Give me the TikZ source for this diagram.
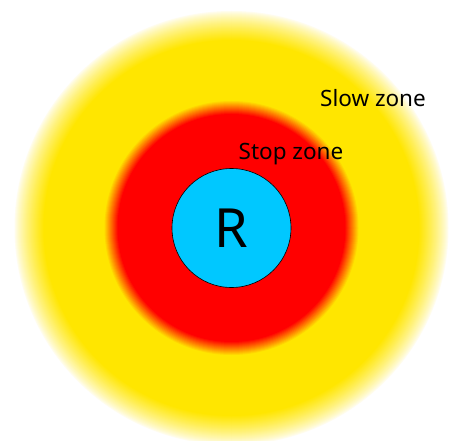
\documentclass[tikz,border=0pt]{standalone}
\usepackage{fontspec}
\setmainfont{Noto Sans}
\definecolor{zyellow}{RGB}{255,230,0}
\definecolor{zred}{RGB}{255,0,0}
\definecolor{zblue}{RGB}{0,200,255}
\begin{document}
\begin{tikzpicture}[x=1pt,y=1pt,
  lbl/.style={font=\fontsize{22.5}{26}\selectfont, text=black, inner sep=0pt},
  robot/.style={circle, draw=black, line width=0.6pt, fill=zblue, minimum size=119pt, inner sep=0pt, font=\fontsize{54}{58}\selectfont}]
\useasboundingbox (0,0) rectangle (455,-441);
\clip (0,0) rectangle (455,-441);
\fill[white] (0,0) rectangle (455,-441);
\coordinate (c) at (231.5,-228);
% slow zone (yellow) with soft edge
\foreach \i in {0,...,30}{
  \pgfmathsetmacro{\p}{100*(\i/30)^0.8}
  \fill[zyellow!\p!white] (c) circle ({218-\i});
}
% stop zone (red) with soft edge
\foreach \i in {0,...,14}{
  \pgfmathsetmacro{\p}{100*(\i/14)}
  \fill[zred!\p!zyellow] (c) circle ({128-\i});
}
\node[robot] (r) at (c) {R};
\node[lbl] (slow) at (373,-98) {Slow zone};
\node[lbl] (stop) at (291,-154) {Stop zone};
\end{tikzpicture}
\end{document}
